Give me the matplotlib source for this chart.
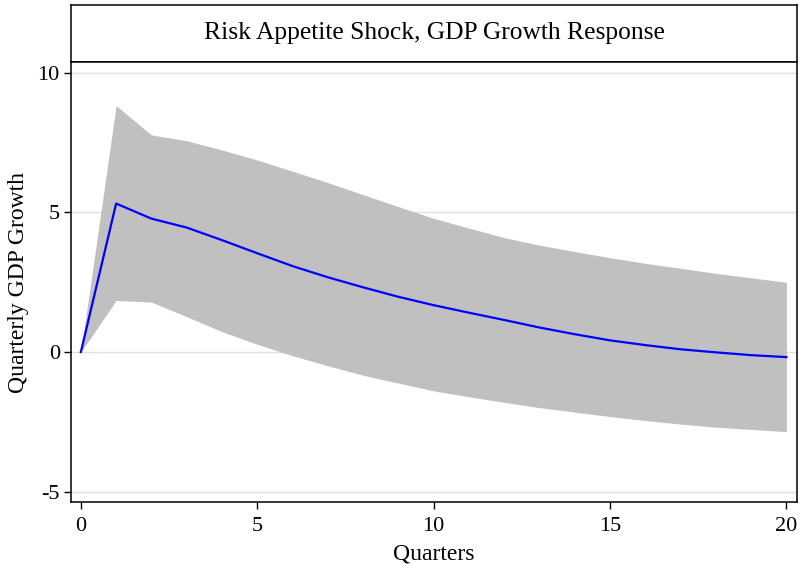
import matplotlib
matplotlib.use('Agg')
import matplotlib.pyplot as plt

# Data
quarters = list(range(21))
irf = [0.0, 5.32, 4.78, 4.46, 4.01, 3.54, 3.08, 2.68, 2.32, 1.98, 1.68,
       1.41, 1.15, 0.88, 0.64, 0.42, 0.25, 0.10, -0.01, -0.11, -0.18]
upper = [0.0, 8.83, 7.78, 7.57, 7.24, 6.88, 6.48, 6.07, 5.64, 5.21, 4.79,
         4.44, 4.10, 3.83, 3.60, 3.38, 3.18, 3.00, 2.82, 2.66, 2.50]
lower = [0.0, 1.85, 1.79, 1.27, 0.73, 0.28, -0.13, -0.49, -0.83, -1.11, -1.39,
         -1.60, -1.80, -1.99, -2.15, -2.31, -2.45, -2.58, -2.69, -2.77, -2.85]
y_ticks = [-5, 0, 5, 10]
x_ticks = [0, 5, 10, 15, 20]
title = 'Risk Appetite Shock, GDP Growth Response'

plt.rcParams['font.family'] = ['Liberation Serif', 'DejaVu Serif']
plt.rcParams['axes.unicode_minus'] = False

fig = plt.figure(figsize=(8.01, 5.73), dpi=100)

# Title box
tax = fig.add_axes([0.0886, 0.8918, 0.9064, 0.0995])
tax.set_xticks([])
tax.set_yticks([])
for s in tax.spines.values():
    s.set_linewidth(1.1)
    s.set_color('black')
tax.text(0.5, 0.5, title, ha='center', va='center', fontsize=18.4,
         transform=tax.transAxes)

# Main plot
ax = fig.add_axes([0.0886, 0.1239, 0.9064, 0.7679])
ax.fill_between(quarters, lower, upper, color='#c0c0c0', linewidth=0, zorder=2)
ax.plot(quarters, irf, color='#0000ff', linewidth=1.6, zorder=3)

ax.set_xlim(-0.28, 20.3)
ax.set_ylim(-5.37, 10.39)
ax.set_yticks(y_ticks)
ax.set_xticks(x_ticks)
ax.yaxis.grid(True, color='#e0e0e0', linewidth=1.0, zorder=1)
ax.set_axisbelow(True)
ax.tick_params(axis='both', direction='out', length=5, width=1.0,
               labelsize=16, colors='black')
ax.tick_params(axis='x', pad=6)
ax.tick_params(axis='y', pad=3)
for s in ax.spines.values():
    s.set_linewidth(1.1)
    s.set_color('black')

ax.set_xlabel('Quarters', fontsize=17, labelpad=5)
ax.set_ylabel('Quarterly GDP Growth', fontsize=17, labelpad=6)

fig.savefig('out.png', dpi=100)
